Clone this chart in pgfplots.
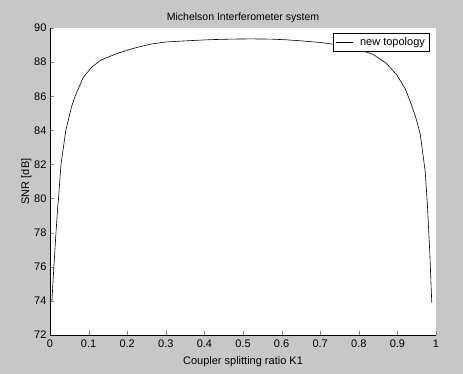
\documentclass[border=0pt]{standalone}
\usepackage{pgfplots}
\pgfplotsset{compat=1.18}
\usepackage{fontspec}
\setmainfont{Liberation Sans}
\definecolor{bggray}{rgb}{0.78,0.78,0.78}
\begin{document}
\begin{tikzpicture}[x=1pt,y=1pt]
\fill[bggray] (0,0) rectangle (463,374);
\useasboundingbox (0,0) rectangle (463,374);
\begin{axis}[
  at={(50pt,39pt)}, anchor=south west,
  width=386pt, height=307pt, scale only axis,
  xmin=0, xmax=1, ymin=72, ymax=90,
  xtick={0,0.1,...,1}, ytick={72,74,...,90},
  xticklabels={0,0.1,0.2,0.3,0.4,0.5,0.6,0.7,0.8,0.9,1},
  axis x line*=bottom, axis y line*=left,
  tick align=inside,
  axis background/.style={fill=white},
  tick label style={font=\fontsize{11}{13}\selectfont},
  xticklabel style={yshift=-1pt},
  /pgf/number format/assume math mode=true,
  title={Michelson Interferometer system},
  title style={font=\fontsize{10.5}{12}\selectfont, yshift=-4pt},
  xlabel={Coupler splitting ratio K1},
  xlabel style={font=\fontsize{11}{13}\selectfont, yshift=-2pt},
  ylabel={SNR [dB]},
  ylabel style={font=\fontsize{11}{13}\selectfont, yshift=-4pt},
  legend style={at={(0.984,0.984)}, anchor=north east, font=\fontsize{11}{13}\selectfont, draw=black, line width=0.8pt, inner sep=2.5pt,
    /tikz/every odd column/.append style={column sep=5pt}},
  legend cell align=left,
  legend image code/.code={\draw[#1] (2pt,0pt) -- (19pt,0pt);},
]
\addplot[black, line width=0.6pt] coordinates {
(0.005,74.0) (0.010,76.0) (0.0155,78.0) (0.020,79.5) (0.022,80.0) (0.0285,82.0)
(0.041,84.0) (0.056,85.4) (0.065,86.0) (0.086,87.1) (0.108,87.7) (0.13,88.1)
(0.173,88.5) (0.215,88.8) (0.26,89.05) (0.30,89.18) (0.363,89.26) (0.42,89.32)
(0.474,89.35) (0.52,89.36) (0.57,89.35) (0.61,89.31) (0.648,89.25) (0.70,89.15)
(0.75,89.0) (0.80,88.75) (0.837,88.45) (0.87,87.95) (0.898,87.26) (0.92,86.45)
(0.933,85.7) (0.947,84.8) (0.959,83.8) (0.972,81.6) (0.978,79.5) (0.984,76.8) (0.989,73.9)
};
\addlegendentry{new topology}
\end{axis}
\end{tikzpicture}
\end{document}
